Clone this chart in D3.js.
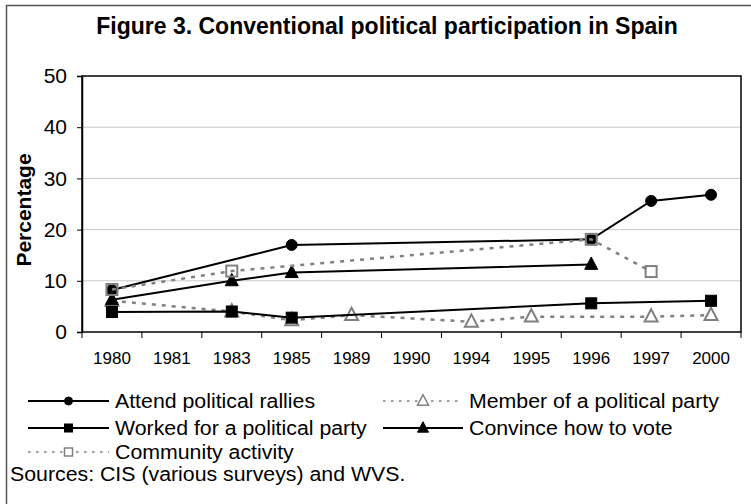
<!DOCTYPE html>
<html><head><meta charset="utf-8">
<script src="https://cdn.jsdelivr.net/npm/d3@7"></script>
<style>
html,body{margin:0;padding:0;background:#fff;}
svg{display:block;font-family:Arial,"Liberation Sans",sans-serif;}
</style></head>
<body>
<script>
const years = ["1980","1981","1983","1985","1989","1990","1994","1995","1996","1997","2000"];
const attendRallies   = [8.2, null, null, 17.0, null, null, null, null, 18.1, 25.6, 26.8];
const memberParty     = [6.1, null, 4.0, 2.3, 3.3, null, 2.0, 3.0, null, 3.0, 3.3];
const workedParty     = [3.9, null, 4.0, 2.8, null, null, null, null, 5.6, null, 6.1];
const convinceVote    = [6.3, null, 10.0, 11.6, null, null, null, null, 13.2, null, null];
const communityActivity = [8.3, null, 11.9, null, null, null, null, null, 18.1, 11.8, null];
const yTicks = [0, 10, 20, 30, 40, 50];
const seriesNames = ["Attend political rallies","Member of a political party","Worked for a political party","Convince how  to vote","Community activity"];
const titleText = "Figure 3. Conventional political participation in Spain";
const yLabel = "Percentage";
const sourceText = "Sources: CIS (various surveys) and WVS.";

const W = 751, H = 504;
const m = {left: 82, top: 76};
const pw = 741 - 82, ph = 332 - 76;

const svg = d3.select("body").append("svg").attr("width", W).attr("height", H);
svg.append("rect").attr("x",0).attr("y",0).attr("width",W).attr("height",H).attr("fill","#fff");
// outer frame (only top and left edges fall inside the picture)
svg.append("rect").attr("x",6.5).attr("y",5.5).attr("width",770).attr("height",520)
  .attr("fill","none").attr("stroke","#555").attr("stroke-width",1.5);

svg.append("text").attr("x",387).attr("y",34).attr("text-anchor","middle")
  .attr("font-size",23).attr("font-weight","bold").attr("fill","#000").text(titleText);

const g = svg.append("g").attr("transform",`translate(${m.left},${m.top})`);
const x = d3.scaleBand().domain(years).range([0,pw]).padding(0);
const y = d3.scaleLinear().domain([0,50]).range([ph,0]);

// gridlines
g.append("g").selectAll("line").data(yTicks.filter(d=>d>0 && d<50)).join("line")
  .attr("x1",0).attr("x2",pw).attr("y1",d=>y(d)).attr("y2",d=>y(d))
  .attr("stroke","#c8c8c8").attr("stroke-width",1);

// plot border
g.append("rect").attr("x",0).attr("y",0).attr("width",pw).attr("height",ph)
  .attr("fill","none").attr("stroke","#000").attr("stroke-width",1.5);

// y axis
const yAxis = g.append("g").call(d3.axisLeft(y).tickValues(yTicks).tickSize(5).tickPadding(10));
yAxis.select(".domain").attr("stroke","#000").attr("stroke-width",1.5);
yAxis.selectAll("text").attr("font-size",21).attr("fill","#000").attr("font-family","Arial, 'Liberation Sans', sans-serif");

// x axis: ticks at band boundaries
const xb = g.append("g").attr("transform",`translate(0,${ph})`);
const bounds = years.map(d=>x(d)).concat([pw]);
xb.selectAll("line").data(bounds).join("line")
  .attr("x1",d=>d).attr("x2",d=>d).attr("y1",0).attr("y2",6).attr("stroke","#000").attr("stroke-width",1);
xb.selectAll("text").data(years).join("text")
  .attr("x",d=>x(d)+x.bandwidth()/2).attr("y",32).attr("text-anchor","middle")
  .attr("font-size",17).attr("fill","#000").text(d=>d);

// y label
svg.append("text").attr("transform","translate(31,210) rotate(-90)").attr("text-anchor","middle")
  .attr("font-size",21).attr("font-weight","bold").attr("fill","#000").text(yLabel);

const series = [
  {name: seriesNames[0], vals: attendRallies, color:"#000", dash:null, width:2, marker:"circle", fill:"#000"},
  {name: seriesNames[1], vals: memberParty, color:"#808080", dash:"4,6", width:2.5, marker:"triangle", fill:"#fff"},
  {name: seriesNames[2], vals: workedParty, color:"#000", dash:null, width:2, marker:"square", fill:"#000"},
  {name: seriesNames[3], vals: convinceVote, color:"#000", dash:null, width:2, marker:"triangle", fill:"#000"},
  {name: seriesNames[4], vals: communityActivity, color:"#808080", dash:"4,6", width:2.5, marker:"square", fill:"none"}
];

const cx = d => x(d.year) + x.bandwidth()/2;
const line = d3.line().x(cx).y(d=>y(d.v));

function drawMarker(sel, type, size, color, fill, sw) {
  if (type === "circle") {
    sel.append("circle").attr("r", size/2).attr("fill", fill).attr("stroke", color).attr("stroke-width", sw);
  } else if (type === "square") {
    sel.append("rect").attr("x",-size/2).attr("y",-size/2).attr("width",size).attr("height",size)
      .attr("fill", fill).attr("stroke", color).attr("stroke-width", sw);
  } else {
    const h = size*0.95, w = size;
    sel.append("path").attr("d",`M0,${-h*0.6}L${w/2},${h*0.4}L${-w/2},${h*0.4}Z`)
      .attr("fill", fill).attr("stroke", color).attr("stroke-width", sw);
  }
}

series.forEach(s => {
  const pts = years.map((yr,i)=>({year:yr, v:s.vals[i]})).filter(d=>d.v!==null);
  const sg = g.append("g");
  sg.append("path").datum(pts).attr("d", line).attr("fill","none")
    .attr("stroke", s.color).attr("stroke-width", s.width)
    .attr("stroke-dasharray", s.dash);
  pts.forEach(p => {
    const mg = sg.append("g").attr("transform",`translate(${cx(p)},${y(p.v)})`);
    const sz = s.marker==="circle" ? 11 : (s.marker==="square" ? 11 : 13);
    drawMarker(mg, s.marker, sz, s.color, s.fill, s.color==="#000"?1:2);
  });
});

// legend
const legendItems = [
  {s:series[0], lx:28, ly:401, tx:115},
  {s:series[1], lx:383, ly:401, tx:469},
  {s:series[2], lx:28, ly:428, tx:115},
  {s:series[3], lx:383, ly:428, tx:469},
  {s:series[4], lx:28, ly:452, tx:115}
];
function stretch(t, k) {
  const len = t.node().getComputedTextLength();
  t.attr("textLength", len*k).attr("lengthAdjust","spacingAndGlyphs");
}
legendItems.forEach(it => {
  const s = it.s;
  const lg = svg.append("g");
  const x1 = it.lx, x2 = it.tx - 6;
  lg.append("line").attr("x1",x1).attr("x2",x2).attr("y1",it.ly).attr("y2",it.ly)
    .attr("stroke",s.color).attr("stroke-width", s.dash?1.5:1.8)
    .attr("stroke-dasharray", s.dash?"2.5,5.5":null);
  const mg = lg.append("g").attr("transform",`translate(${(x1+x2)/2},${it.ly})`);
  const sz = s.marker==="triangle" ? 11 : 8;
  drawMarker(mg, s.marker, sz, s.color, s.fill==="none"?"#fff":s.fill, s.color==="#000"?1:1.5);
  const t = lg.append("text").attr("x",it.tx).attr("y",it.ly+6.5).attr("font-size",20).attr("fill","#000").text(s.name);
  stretch(t, 1.065);
});

const st = svg.append("text").attr("x",10).attr("y",481).attr("font-size",20).attr("fill","#000").text(sourceText);
stretch(st, 1.065);
</script>
</body></html>
